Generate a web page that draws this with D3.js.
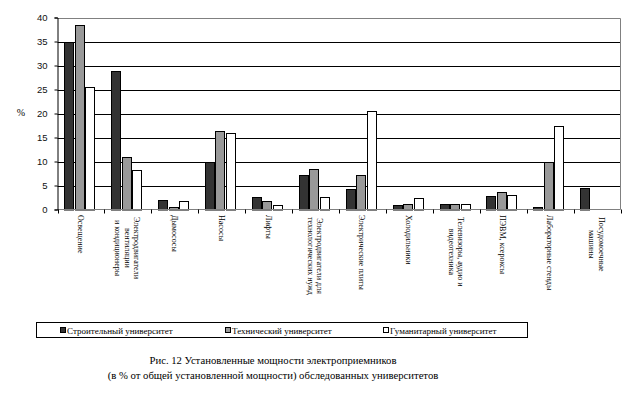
<!DOCTYPE html>
<html>
<head>
<meta charset="utf-8">
<script src="https://cdn.jsdelivr.net/npm/d3@7"></script>
<style>
  html, body { margin: 0; padding: 0; background: #fff; }
  svg { display: block; }
  .serif { font-family: 'Liberation Serif', 'Times New Roman', serif; }
  .sans { font-family: 'Liberation Sans', Arial, sans-serif; }
</style>
</head>
<body>
<svg id="chart" width="642" height="396"></svg>
<script>
// ---- data ----
const categories = [
  ["Освещение"],
  ["Электродвигатели", "вентиляции", "и кондиционеры"],
  ["Дымососы"],
  ["Насосы"],
  ["Лифты"],
  ["Электродвигатели для", "технологических нужд"],
  ["Электрические плиты"],
  ["Холодильники"],
  ["Телевизоры, аудио и", "видеотехника"],
  ["ПЭВМ, ксероксы"],
  ["Лабораторные стенды"],
  ["Посудомоечные", "машины"]
];
const seriesNames = ["Строительный университет", "Технический университет", "Гуманитарный университет"];
const stroitelny   = [35.0, 28.9, 2.0, 10.0, 2.6, 7.1, 4.3, 1.0, 1.1, 2.8, 0.5, 4.5];
const tekhnichesky = [38.4, 11.0, 0.55, 16.4, 1.8, 8.5, 7.1, 1.25, 1.1, 3.7, 10.0, 0];
const gumanitarny  = [25.6, 8.3, 1.8, 16.0, 1.0, 2.6, 20.6, 2.4, 1.1, 3.0, 17.3, 0];
const yTicks = [0, 5, 10, 15, 20, 25, 30, 35, 40];
const yLabel = "%";
const titleLines = ["Рис. 12 Установленные мощности электроприемников",
                    "(в % от общей установленной мощности) обследованных университетов"];

// ---- layout ----
const seriesValues = [stroitelny, tekhnichesky, gumanitarny];
const colors = ["#333333", "#999999", "#ffffff"];
const svg = d3.select("#chart");
const pLeft = 57.5, pRight = 620.5, pTop = 17.5, pBottom = 209.5;

const x = d3.scaleBand().domain(d3.range(categories.length)).range([pLeft, pRight])
  .paddingInner(0.33).paddingOuter(0.165);
const xs = d3.scaleBand().domain(d3.range(seriesValues.length)).range([0, x.bandwidth()]);
const y = d3.scaleLinear().domain([0, 40]).range([pBottom, pTop]);
const step = x.step();

// gridlines
svg.append("g").selectAll("line").data(yTicks.filter(t => t > 0 && t < 40)).join("line")
  .attr("x1", pLeft).attr("x2", pRight)
  .attr("y1", d => Math.round(y(d)) + 0.5).attr("y2", d => Math.round(y(d)) + 0.5)
  .attr("stroke", "#000").attr("stroke-width", 1);

// plot border top/right (gray)
svg.append("path")
  .attr("d", `M${pLeft},${Math.round(y(40)) + 0.5}H${pRight}V${pBottom}`)
  .attr("fill", "none").attr("stroke", "#808080");

// bars
const g = svg.append("g");
seriesValues.forEach((vals, si) => {
  g.selectAll(null).data(vals.map((v, i) => ({v, i})).filter(d => d.v > 0)).join("rect")
    .attr("x", d => Math.round(x(d.i) + xs(si)) - 0.5)
    .attr("width", Math.round(xs.bandwidth()) - 1)
    .attr("y", d => Math.round(y(d.v)) + 0.5)
    .attr("height", d => Math.round(pBottom) - Math.round(y(d.v)) - 0.5)
    .attr("fill", colors[si]).attr("stroke", "#000").attr("stroke-width", 1);
});

// x axis (gray line + black ticks at category boundaries)
svg.append("line").attr("x1", pLeft).attr("x2", pRight)
  .attr("y1", pBottom).attr("y2", pBottom).attr("stroke", "#808080");
svg.append("g").selectAll("line").data(d3.range(categories.length + 1)).join("line")
  .attr("x1", i => Math.round(pLeft + i * step) + 0.5).attr("x2", i => Math.round(pLeft + i * step) + 0.5)
  .attr("y1", pBottom).attr("y2", pBottom + 4).attr("stroke", "#000");

// y axis
const yAxis = d3.axisLeft(y).tickValues(yTicks).tickSize(3).tickPadding(7).tickFormat(d3.format("d"));
const ya = svg.append("g").attr("transform", `translate(${pLeft},0)`).call(yAxis);
ya.attr("font-family", null).attr("font-size", null);
ya.select(".domain").attr("stroke", "#000");
ya.selectAll(".tick line").attr("stroke", "#000");
ya.selectAll(".tick text").attr("class", "sans")
  .style("font-size", "9.5px").attr("fill", "#111");

svg.append("text").attr("class", "serif").attr("x", 21).attr("y", 116).attr("text-anchor", "middle")
  .style("font-size", "10px").text(yLabel);

// x labels, rotated 90deg
const lineH = 9.5;
const lab = svg.append("g").attr("class", "serif").style("font-size", "8px").attr("fill", "#000");
categories.forEach((lines, i) => {
  const cx = pLeft + (i + 0.5) * step;
  const n = lines.length;
  const t = lab.append("text");
  const tspans = lines.map((ln, k) => t.append("tspan").text(ln));
  const lens = tspans.map(ts => ts.node().getComputedTextLength());
  const maxLen = d3.max(lens);
  const topY = 215 + (n > 1 ? 2 : 0);
  t.attr("transform", `translate(${cx},${topY + maxLen / 2}) rotate(90)`)
   .attr("text-anchor", "middle");
  tspans.forEach((ts, k) => {
    ts.attr("x", 0).attr("y", ((k - (n - 1) / 2) * lineH) + 3);
  });
});

// legend
const lg = svg.append("g");
lg.append("rect").attr("x", 36.5).attr("y", 322.5).attr("width", 491).attr("height", 15)
  .attr("fill", "#fff").attr("stroke", "#000");
const legX = [60, 225, 383];
seriesNames.forEach((name, i) => {
  lg.append("rect").attr("x", legX[i] + 0.5).attr("y", 327.5).attr("width", 5).attr("height", 5)
    .attr("fill", colors[i]).attr("stroke", "#000");
  lg.append("text").attr("class", "serif").attr("x", legX[i] + 7).attr("y", 334)
    .style("font-size", "9px").text(name);
});

// title
svg.append("g").selectAll("text").data(titleLines).join("text")
  .attr("class", "serif")
  .attr("x", 273).attr("y", (d, i) => 364 + i * 15)
  .attr("text-anchor", "middle")
  .style("font-size", "10.7px")
  .attr("fill", "#000").text(d => d);
</script>
</body>
</html>
